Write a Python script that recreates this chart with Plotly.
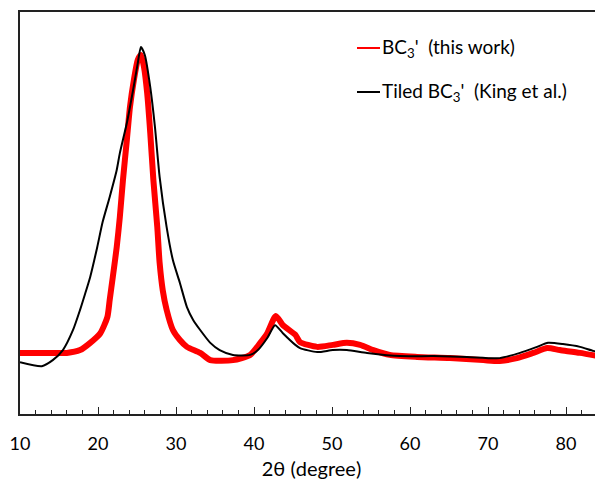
import plotly.graph_objects as go

# 2theta (degree) and intensity (arbitrary units, 0-100 of axis height)
red_x = [10.0, 12.6, 14.2, 16.0, 17.7, 19.0, 20.3, 21.2, 21.5, 21.9, 22.4, 22.8, 23.2, 23.7,
         24.1, 24.6, 25.1, 25.5, 25.9, 26.3, 26.7, 27.1, 27.6, 27.9, 28.3, 28.8, 29.6, 30.5,
         31.4, 33.1, 34.4, 37.3, 39.5, 40.8, 41.7, 42.8, 43.7, 45.3, 45.9, 48.1, 50.1, 51.9,
         53.6, 55.3, 57.4, 60.9, 65.1, 69.4, 71.5, 73.7, 75.8, 77.6, 79.2, 81.8, 84.7]
red_y = [15.2, 15.2, 15.2, 15.2, 15.9, 17.7, 20.1, 24.1, 28.4, 34.1, 41.5, 49.0, 58.2, 68.2,
         76.4, 83.1, 88.1, 89.3, 86.3, 79.9, 69.9, 58.2, 46.5, 37.6, 30.8, 25.9, 20.9, 18.4,
         16.7, 15.2, 13.4, 13.4, 14.7, 17.7, 20.1, 24.4, 22.1, 19.7, 17.9, 16.7, 17.2, 17.7,
         17.2, 15.9, 14.7, 14.2, 13.9, 13.4, 13.2, 13.9, 15.2, 16.4, 15.9, 15.2, 14.2]

black_x = [10.0, 12.8, 14.2, 15.5, 16.8, 17.7, 18.3, 19.0, 19.9, 20.6, 21.5, 22.4, 22.8, 23.7,
           24.5, 25.1, 25.5, 26.0, 26.7, 27.3, 27.9, 28.8, 29.6, 30.5, 31.4, 32.2, 33.1, 34.4,
           35.6, 37.3, 39.5, 40.5, 41.7, 42.7, 43.7, 45.3, 45.9, 48.1, 50.1, 51.9, 54.5, 58.7,
           63.0, 67.3, 71.5, 74.1, 76.3, 77.7, 79.6, 81.8, 83.5, 84.7]
black_y = [12.9, 11.9, 13.4, 15.9, 20.9, 25.9, 29.6, 34.1, 41.5, 47.8, 54.0, 60.7, 64.9, 72.4,
           80.6, 87.3, 91.3, 89.3, 81.3, 71.4, 59.0, 46.5, 38.3, 32.6, 26.6, 23.4, 20.9, 17.7,
           15.9, 14.7, 14.7, 15.9, 18.9, 22.1, 20.1, 17.2, 16.4, 15.4, 15.9, 15.9, 15.2, 14.4,
           14.4, 14.2, 13.9, 15.2, 16.7, 17.7, 17.4, 16.7, 15.7, 15.2]

x_ticks = [10, 20, 30, 40, 50, 60, 70, 80]
legend_labels = ["BC<sub>3</sub>'  (this work)", "Tiled BC<sub>3</sub>'  (King et al.)"]
FONT = "Lato, 'Open Sans', sans-serif"

# page has an 8px body margin: plot area wanted at page x 20..603, y 12..414
fig = go.Figure()
fig.add_trace(go.Scatter(x=red_x, y=red_y, mode="lines",
                         line=dict(color="#ff0000", width=6, shape="spline", smoothing=0.6),
                         showlegend=False))
fig.add_trace(go.Scatter(x=black_x, y=black_y, mode="lines",
                         line=dict(color="black", width=2, shape="spline", smoothing=0.6),
                         showlegend=False))

fig.update_layout(
    width=603, height=482,
    margin=dict(l=12, r=8, t=4, b=76),
    plot_bgcolor="white", paper_bgcolor="white",
    font=dict(family=FONT, size=18, color="#000"),
    xaxis=dict(range=[10, 10 + 583 / 7.8], tickvals=x_ticks, ticks="inside", ticklen=7,
               tickwidth=1.3, tickcolor="#222", showline=True, linecolor="#222", linewidth=2,
               mirror=True, showgrid=False, zeroline=False, automargin=False,
               minor=dict(dtick=2, ticks="inside", ticklen=4, tickcolor="#222", tickwidth=1.2),
               ticklabelstandoff=12,
               title=dict(text="2θ (degree)", font=dict(size=20), standoff=9)),
    yaxis=dict(range=[0, 100], showticklabels=False, ticks="", showline=True, automargin=False,
               linecolor="#222", linewidth=2, showgrid=False, zeroline=False),
)

for i, lab in enumerate(legend_labels):
    color = "#ff0000" if i == 0 else "black"
    ypx = 48 + 44 * i
    yv = 1 - (ypx - 12) / 402
    fig.add_shape(type="line", xref="paper", yref="paper",
                  x0=(357 - 20) / 583, x1=(380 - 20) / 583, y0=yv, y1=yv,
                  line=dict(color=color, width=2))
    fig.add_annotation(xref="paper", yref="paper", x=(380 - 20) / 583, y=yv,
                       xanchor="left", yanchor="middle", text=lab, showarrow=False,
                       font=dict(size=19, family=FONT, color="#000"))

fig.write_html("out.html")
